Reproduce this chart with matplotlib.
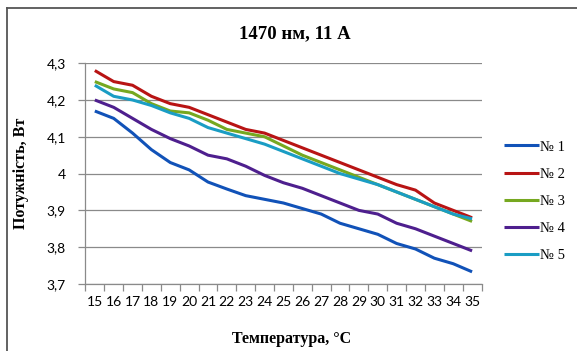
import matplotlib

matplotlib.use("Agg")
import matplotlib.pyplot as plt
from matplotlib.lines import Line2D
import numpy as np

# Output power of five samples vs. temperature (1470 nm, 11 A)
temperatures = list(range(15, 36))

power_1 = [4.17, 4.15, 4.11, 4.065, 4.03, 4.01, 3.977, 3.958, 3.94, 3.93, 3.92,
           3.905, 3.89, 3.865, 3.85, 3.835, 3.81, 3.795, 3.77, 3.755, 3.733]
power_2 = [4.28, 4.25, 4.24, 4.21, 4.19, 4.18, 4.16, 4.14, 4.12, 4.11, 4.09,
           4.07, 4.05, 4.03, 4.01, 3.99, 3.97, 3.955, 3.92, 3.90, 3.88]
power_3 = [4.25, 4.23, 4.22, 4.19, 4.17, 4.165, 4.145, 4.12, 4.11, 4.10, 4.075,
           4.05, 4.03, 4.01, 3.99, 3.97, 3.95, 3.93, 3.91, 3.89, 3.87]
power_4 = [4.20, 4.18, 4.15, 4.12, 4.095, 4.075, 4.05, 4.04, 4.02, 3.995, 3.975,
           3.96, 3.94, 3.92, 3.90, 3.89, 3.865, 3.85, 3.83, 3.81, 3.79]
power_5 = [4.24, 4.21, 4.20, 4.185, 4.165, 4.15, 4.125, 4.11, 4.095, 4.08, 4.06,
           4.04, 4.02, 4.00, 3.985, 3.97, 3.95, 3.93, 3.91, 3.89, 3.877]

series_names = ["№ 1", "№ 2", "№ 3", "№ 4", "№ 5"]
series_values = [power_1, power_2, power_3, power_4, power_5]
series_colors = ["#1152B8", "#B81414", "#76A820", "#4E1F8E", "#1A9DC4"]

y_ticks = [3.7, 3.8, 3.9, 4.0, 4.1, 4.2, 4.3]

SERIF = "Liberation Serif"
SANS = "Lato"
GRID = "#8A8A8A"


def comma_label(v: float) -> str:
    return f"{v:g}".replace(".", ",")


fig = plt.figure(figsize=(5.77, 3.51), dpi=100)
ax = fig.add_axes([0.148, 0.191, 0.6865, 0.629])

x = np.arange(len(temperatures))
for name, values, color in zip(series_names, series_values, series_colors):
    ax.plot(x, values, color=color, linewidth=2.2, label=name,
            solid_capstyle="butt", solid_joinstyle="round")

ax.set_xlim(-0.5, len(temperatures) - 0.5)
ax.set_ylim(y_ticks[0], y_ticks[-1])

ax.set_xticks(x, [str(t) for t in temperatures])
ax.set_xticks(np.arange(-0.5, len(temperatures)), minor=True)
ax.tick_params(axis="x", which="major", length=0, pad=9,
               labelsize=10, labelcolor="black")
ax.tick_params(axis="x", which="minor", length=5, color=GRID, width=0.9)
for lbl in ax.get_xticklabels():
    lbl.set_family(SANS)

ax.set_yticks(y_ticks, [comma_label(v) for v in y_ticks])
ax.tick_params(axis="y", length=5, color=GRID, width=0.9, pad=9,
               labelsize=10, labelcolor="black")
for lbl in ax.get_yticklabels():
    lbl.set_family(SANS)

ax.grid(axis="y", color=GRID, linewidth=0.9)
ax.set_axisbelow(True)
for side in ("top", "right"):
    ax.spines[side].set_visible(False)
for side in ("left", "bottom"):
    ax.spines[side].set_color(GRID)
    ax.spines[side].set_linewidth(0.9)

fig.text(0.511, 0.905, "1470 нм, 11 А", family=SERIF, fontweight="bold",
         fontsize=13.5, ha="center", va="center")
fig.text(0.506, 0.033, "Температура, °C", family=SERIF, fontweight="bold",
         fontsize=11.5, ha="center", va="center")
fig.text(0.036, 0.505, "Потужність, Вт", family=SERIF, fontweight="bold",
         fontsize=11.5, ha="center", va="center", rotation=90)

leg = fig.legend(loc="center left", bbox_to_anchor=(0.874, 0.427),
                 frameon=False, prop={"family": SERIF, "size": 10.5},
                 handlelength=2.4, handletextpad=0.05, labelspacing=0.95,
                 borderpad=0.0, borderaxespad=0.0)

# partial chart frame along the top and left edges
fig.add_artist(Line2D([0.0116, 0.0116], [0.0, 0.9764], transform=fig.transFigure,
                      color="#555555", linewidth=1.3))
fig.add_artist(Line2D([0.0116, 1.0], [0.9764, 0.9764], transform=fig.transFigure,
                      color="#555555", linewidth=1.3))

fig.savefig("out.png", dpi=100)
